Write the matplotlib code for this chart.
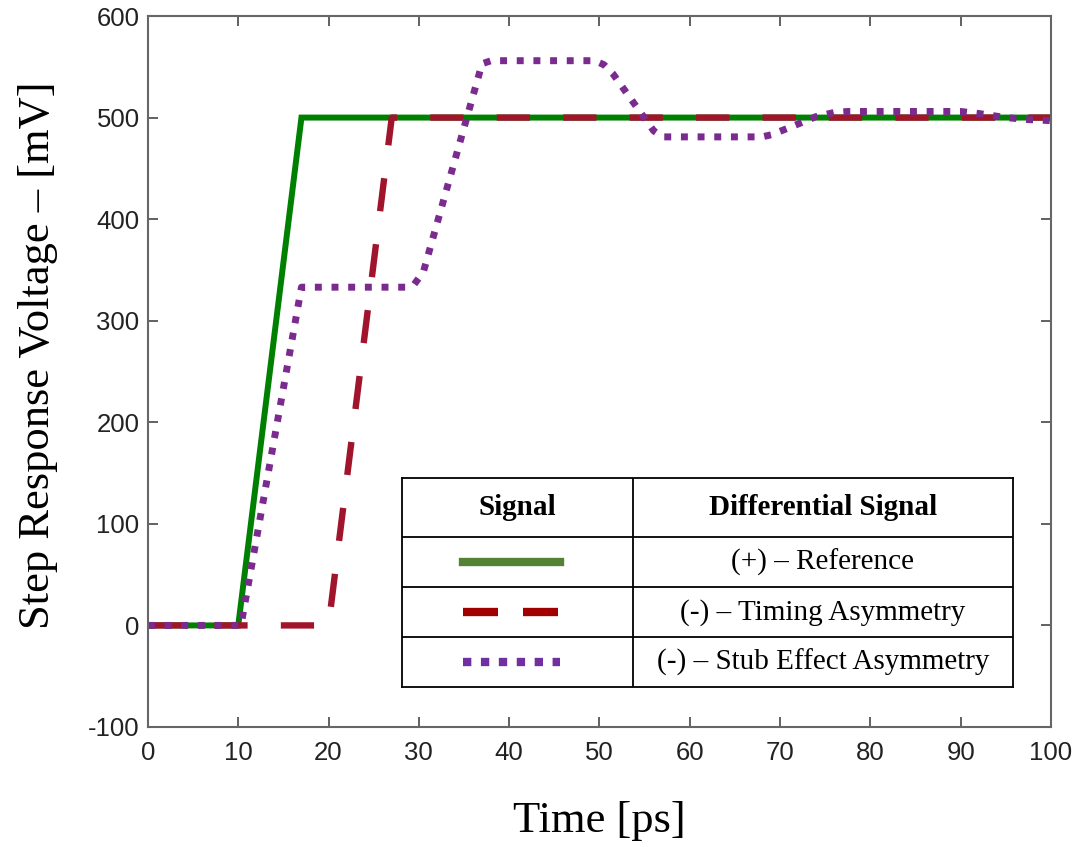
import matplotlib
matplotlib.use('Agg')
import matplotlib.pyplot as plt
from matplotlib.lines import Line2D

# step response data (time in ps, voltage in mV)
t_ref = [0, 10, 17, 100]
v_ref = [0, 0, 500, 500]

t_timing = [0, 20, 27, 100]
v_timing = [0, 0, 500, 500]

t_stub = [0, 10.3, 17, 28.5, 29.5, 30.5, 37, 38, 49.5, 50.5, 51.5, 56, 57,
          68, 69, 71, 74, 76, 77.5, 90, 92, 95, 97.5, 100]
v_stub = [0, 0, 333, 333, 336, 348, 553, 556, 556, 552, 543, 487, 481,
          481, 483, 490, 501, 505, 506, 506, 504, 500, 498, 497]

col_headers = ['Signal', 'Differential Signal']
row_labels = ['(+) \u2013 Reference', '(-) \u2013 Timing Asymmetry',
              '(-) \u2013 Stub Effect Asymmetry']

x_ticks = list(range(0, 101, 10))
y_ticks = list(range(-100, 601, 100))

plt.rcParams['font.family'] = 'Liberation Sans'
plt.rcParams['axes.unicode_minus'] = False
fig = plt.figure(figsize=(10.76, 8.47), dpi=100)
ax = fig.add_axes([0.1375, 0.1417, 0.8392, 0.8394])

ax.plot(t_ref, v_ref, color='#008000', lw=4.3, solid_joinstyle='miter')
ax.plot(t_timing, v_timing, color='#A0142C', lw=4.6, dashes=(5.2, 5.2),
        dash_capstyle='butt')
ax.plot(t_stub, v_stub, color='#7B2A8F', lw=5.0, dashes=(1.0, 1.4),
        dash_capstyle='butt')

ax.set_xlim(0, 100)
ax.set_ylim(-100, 600)
ax.set_xticks(x_ticks)
ax.set_yticks(y_ticks)
ax.tick_params(direction='in', length=7, width=1.3, color='#555555',
               top=True, right=True, labelsize=18.5, labelcolor='#222222')
ax.tick_params(axis='y', pad=6)
ax.tick_params(axis='x', pad=10)
for s in ax.spines.values():
    s.set_color('#666666')
    s.set_linewidth(1.5)

ax.set_xlabel('Time [ps]', family='Liberation Serif', fontsize=32, labelpad=26)
ax.set_ylabel('Step Response Voltage \u2013 [mV]', family='Liberation Serif',
              fontsize=32)
ax.yaxis.set_label_coords(-0.1, 0.523)

# legend drawn as a bordered table
tab = fig.add_axes([0.3736, 0.1889, 0.5678, 0.2468])
tab.set_xlim(0, 1)
tab.set_ylim(0, 1)
tab.set_xticks([])
tab.set_yticks([])
for s in tab.spines.values():
    s.set_linewidth(1.3)
    s.set_color('black')
row_edges = [1.0, 0.718, 0.478, 0.239, 0.0]
col_split = 0.378
for y in row_edges[1:-1]:
    tab.axhline(y, color='black', lw=1.3)
tab.axvline(col_split, color='black', lw=1.3)

tab.text(col_split / 2, (row_edges[0] + row_edges[1]) / 2, col_headers[0],
         family='Liberation Serif', weight='bold', fontsize=21,
         ha='center', va='center')
tab.text((1 + col_split) / 2, (row_edges[0] + row_edges[1]) / 2, col_headers[1],
         family='Liberation Serif', weight='bold', fontsize=21,
         ha='center', va='center')

samples = [dict(color='#548235', lw=6),
           dict(color='#A00000', lw=6, dashes=(4.2, 3.0), dash_capstyle='butt'),
           dict(color='#7030A0', lw=6, dashes=(1.0, 1.15), dash_capstyle='butt')]
for i, (lab, st) in enumerate(zip(row_labels, samples)):
    yc = (row_edges[i + 1] + row_edges[i + 2]) / 2
    tab.add_line(Line2D([0.1, 0.258], [yc, yc], **st))
    tab.text((1 + col_split) / 2, yc, lab, family='Liberation Serif',
             fontsize=21, ha='center', va='center')

fig.savefig('out.png', dpi=100)
